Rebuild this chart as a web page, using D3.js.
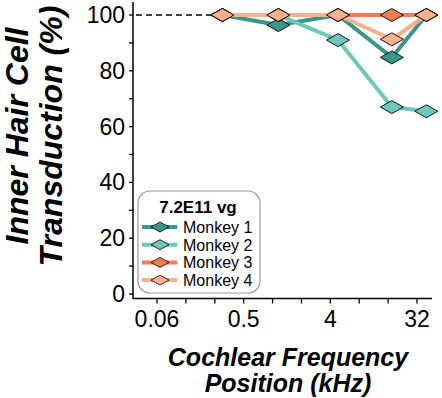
<!DOCTYPE html>
<html>
<head>
<meta charset="utf-8">
<script src="https://cdn.jsdelivr.net/npm/d3@7"></script>
<style>
  body { margin: 0; background: #fff; }
  svg { display: block; font-family: "Liberation Sans", Arial, sans-serif; }
</style>
</head>
<body>
<svg width="442" height="398"></svg>
<script>
let width = 442, height = 398;

// frequency positions (kHz) and transduction (%) per monkey
let freqs = [0.3, 1.15, 4.8, 17.5, 40];
let monkey1 = [100, 96.4, 100, 84.8, 100];
let monkey2 = [100, 100, 91, 67, 65.5];
let monkey3 = [100, 100, 100, 100, 100];
let monkey4 = [100, 100, 100, 91.3, 100];
let seriesNames = ["Monkey 1", "Monkey 2", "Monkey 3", "Monkey 4"];
let seriesColors = ["#3a958b", "#6cc8ba", "#f47c50", "#f9b08c"];
let xTicks = [0.0625, 0.125, 0.25, 0.5, 1, 2, 4, 8, 16, 32];
let xTickLabels = ["0.06", "", "", "0.5", "", "", "4", "", "", "32"];
let yTicks = [0, 20, 40, 60, 80, 100];
let yMinorTicks = [10, 30, 50, 70, 90];

let series = [monkey1, monkey2, monkey3, monkey4].map((vals, i) => ({
  name: seriesNames[i],
  color: seriesColors[i],
  points: vals.map((v, j) => ({ f: freqs[j], v: v }))
}));

let svg = d3.select("svg");

let x = d3.scaleLog().base(2).domain([0.0625, 32]).range([157, 417]);
let y = d3.scaleLinear().domain([0, 100]).range([294, 15]);

// y axis
let yAxis = svg.append("g").attr("transform", "translate(133,0)");
yAxis.append("line").attr("x1", 0).attr("x2", 0).attr("y1", 2).attr("y2", 299)
  .attr("stroke", "black").attr("stroke-width", 1.5);
yAxis.selectAll(".ytick").data(yTicks.concat(yMinorTicks)).enter().append("line")
  .attr("x1", -4).attr("x2", 0)
  .attr("y1", d => y(d)).attr("y2", d => y(d))
  .attr("stroke", "black").attr("stroke-width", 1.3);
yAxis.selectAll(".ylab").data(yTicks).enter().append("text")
  .attr("x", -8).attr("y", d => y(d) + 8)
  .attr("text-anchor", "end")
  .attr("font-size", 23)
  .text(d => d);

// x axis
let xAxis = svg.append("g").attr("transform", "translate(0,298.5)");
xAxis.append("line").attr("x1", 133).attr("x2", 432).attr("y1", 0).attr("y2", 0)
  .attr("stroke", "black").attr("stroke-width", 1.5);
xAxis.selectAll(".xtick").data(xTicks).enter().append("line")
  .attr("x1", d => x(d)).attr("x2", d => x(d))
  .attr("y1", 0).attr("y2", 5)
  .attr("stroke", "black").attr("stroke-width", 1.3);
xAxis.selectAll(".xlab").data(xTicks).enter().append("text")
  .attr("x", d => x(d)).attr("y", 28.5)
  .attr("text-anchor", "middle")
  .attr("font-size", 23)
  .text((d, i) => xTickLabels[i]);

// axis titles
let yTitle = svg.append("g").attr("transform", "translate(0,136) rotate(-90)")
  .attr("font-weight", "bold").attr("font-style", "italic").attr("font-size", 32)
  .attr("text-anchor", "middle");
yTitle.append("text").attr("x", 0).attr("y", 28).text("Inner Hair Cell");
yTitle.append("text").attr("x", 0).attr("y", 62).text("Transduction (%)");

let xTitle = svg.append("g")
  .attr("font-weight", "bold").attr("font-style", "italic").attr("font-size", 25)
  .attr("text-anchor", "middle");
xTitle.append("text").attr("x", 288).attr("y", 366).text("Cochlear Frequency");
xTitle.append("text").attr("x", 288).attr("y", 392).text("Position (kHz)");

// reference line at 100%
svg.append("line")
  .attr("x1", 136).attr("x2", x(freqs[0]))
  .attr("y1", y(100)).attr("y2", y(100))
  .attr("stroke", "black").attr("stroke-width", 1.3)
  .attr("stroke-dasharray", "6,4");

let diamond = (w, h) => `M${-w/2},0L0,${-h/2}L${w/2},0L0,${h/2}Z`;

let line = d3.line().x(d => x(d.f)).y(d => y(d.v));

series.forEach(s => {
  let g = svg.append("g");
  g.append("path").datum(s.points)
    .attr("d", line)
    .attr("fill", "none")
    .attr("stroke", s.color)
    .attr("stroke-width", 4)
    .attr("stroke-linejoin", "round");
  g.selectAll("path.m").data(s.points).enter().append("path")
    .attr("class", "m")
    .attr("transform", d => `translate(${x(d.f)},${y(d.v)})`)
    .attr("d", diamond(23, 13))
    .attr("fill", s.color)
    .attr("stroke", "black")
    .attr("stroke-width", 0.9);
});

// legend
let legend = svg.append("g");
legend.append("rect")
  .attr("x", 138).attr("y", 191).attr("width", 122).attr("height", 102)
  .attr("rx", 12).attr("ry", 12)
  .attr("fill", "white").attr("stroke", "#9a9a9a").attr("stroke-width", 1.2);
legend.append("text")
  .attr("x", 198).attr("y", 213)
  .attr("text-anchor", "middle")
  .attr("font-weight", "bold").attr("font-size", 17)
  .text("7.2E11 vg");

let rows = legend.selectAll(".row").data(series).enter().append("g")
  .attr("transform", (d, i) => `translate(0,${227 + i * 17.7})`);
rows.append("line")
  .attr("x1", 142).attr("x2", 177).attr("y1", 0).attr("y2", 0)
  .attr("stroke", d => d.color).attr("stroke-width", 4);
rows.append("path")
  .attr("transform", "translate(160,0)")
  .attr("d", diamond(18, 10))
  .attr("fill", d => d.color)
  .attr("stroke", "black").attr("stroke-width", 0.8);
rows.append("text")
  .attr("x", 183).attr("y", 6)
  .attr("font-size", 16)
  .text(d => d.name);
</script>
</body>
</html>
